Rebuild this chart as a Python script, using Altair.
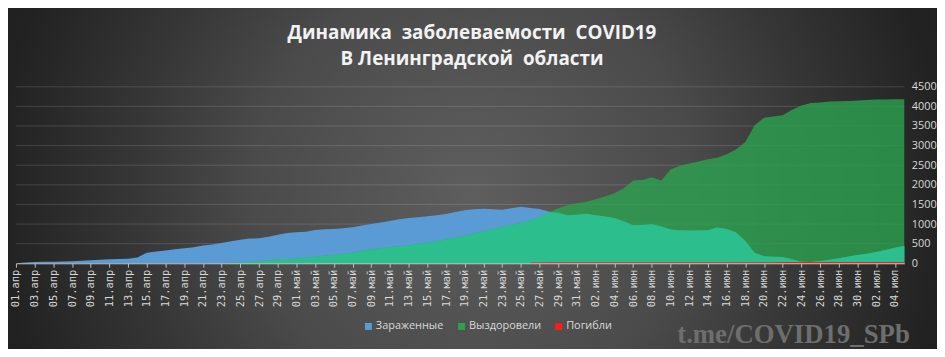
import altair as alt
import pandas as pd

# ---- data -------------------------------------------------------------
MONTHS = {4: "апр", 5: "май", 6: "июн", 7: "июл"}
dates = pd.date_range("2020-04-01", "2020-07-05", freq="D")
date_labels = [f"{d.day:02d}.{MONTHS[d.month]}" for d in dates]

series_names = ["Зараженные", "Выздоровели", "Погибли"]
series_colors = ["#5b9bd5", "#2ca24f", "#ff1a1a"]

infected = [
    0, 20, 34, 36, 38, 42, 50, 62, 75, 90,
    105, 112, 118, 150, 270, 300, 325, 355, 385, 410,
    455, 480, 520, 560, 600, 630, 635, 675, 725, 770,
    790, 805, 850, 865, 877, 895, 919, 960, 1003, 1040,
    1079, 1120, 1155, 1175, 1197, 1225, 1256, 1310, 1355, 1375,
    1390, 1375, 1366, 1400, 1440, 1410, 1385, 1320, 1290, 1225,
    1240, 1260, 1225, 1190, 1155, 1071, 970, 978, 995, 944,
    860, 840, 835, 835, 843, 910, 877, 792, 565, 270,
    180, 165, 160, 100, 40, 35, 59, 90, 130, 170,
    211, 245, 287, 340, 396, 445,
]

recovered = [
    0, 0, 0, 0, 0, 0, 0, 0, 0, 0,
    0, 0, 0, 0, 0, 0, 0, 0, 0, 0,
    2, 5, 8, 15, 25, 40, 59, 80, 101, 110,
    118, 140, 169, 190, 211, 240, 270, 310, 354, 385,
    413, 435, 455, 490, 523, 565, 607, 650, 700, 760,
    818, 870, 930, 980, 1030, 1100, 1180, 1300, 1400, 1480,
    1530, 1570, 1630, 1700, 1787, 1914, 2108, 2124, 2192, 2108,
    2394, 2487, 2546, 2596, 2655, 2689, 2782, 2900, 3094, 3520,
    3709, 3743, 3775, 3912, 4021, 4089, 4097, 4122, 4131, 4140,
    4148, 4160, 4173, 4178, 4181, 4181,
]

deaths = [None] * 55 + [
    22, 22, 23, 23, 23, 24, 24, 24, 25, 25,
    25, 26, 26, 26, 26, 27, 27, 27, 27, 28,
    28, 28, 28, 29, 29, 29, 29, 30, 30, 30,
    30, 31, 31, 31, 31, 32, 32, 32, 32, 33,
    33,
]

y_ticks = [0, 500, 1000, 1500, 2000, 2500, 3000, 3500, 4000, 4500]
grid_values = y_ticks[1:]

df = pd.DataFrame({"date": date_labels, "inf": infected, "rec": recovered, "dead": deaths})

# ---- shared encodings -------------------------------------------------
TXT = "#d9d9d9"
FONT = "Open Sans"
W, H = 896, 178

x_enc = alt.X(
    "date:O",
    sort=date_labels,
    scale=alt.Scale(type="point", padding=0, domain=date_labels),
    axis=alt.Axis(
        values=date_labels[::2], labelAngle=270, labelColor=TXT, labelFontSize=10.5,
        labelFont="DejaVu Sans Mono", tickColor="#bfbfbf", tickSize=4,
        domainColor="#c8c8c8", domainWidth=1, labelPadding=2, grid=False,
        title=None, zindex=1, labelOverlap=False,
    ),
)
y_scale = alt.Scale(domain=[0, 4500], nice=False)
y_axis = alt.Axis(
    orient="right", values=y_ticks, format="d", grid=False, domain=False, ticks=False,
    labelPadding=7, labelColor=TXT, labelFontSize=11, labelFont=FONT,
    title=None, zindex=1,
)
color_scale = alt.Scale(domain=series_names, range=series_colors)
legend = alt.Legend(
    orient="none", legendX=350, legendY=236, direction="horizontal", title=None,
    symbolType="square", symbolSize=49, symbolOpacity=1, symbolStrokeWidth=0,
    labelColor=TXT, labelFontSize=11, labelFont=FONT, columnPadding=12,
    labelOffset=2, padding=0,
)
color_enc = alt.Color("series:N", scale=color_scale, legend=legend)

# ---- layers -----------------------------------------------------------
bg = alt.Chart(pd.DataFrame({"k": [0]})).mark_rect(
    color={
        "gradient": "radial", "x1": 0.5, "y1": 0.5, "r1": 0,
        "x2": 0.5, "y2": 0.5, "r2": 0.6,
        "stops": [
            {"offset": 0, "color": "#5e5e5e"},
            {"offset": 0.4, "color": "#4a4a4a"},
            {"offset": 0.6, "color": "#373737"},
            {"offset": 0.85, "color": "#222222"},
            {"offset": 1, "color": "#1c1c1c"},
        ],
    }
).encode(x=alt.value(-8), x2=alt.value(929), y=alt.value(-228), y2=alt.value(437))

grid = alt.Chart(pd.DataFrame({"g": grid_values})).mark_rule(
    color="#ffffff", opacity=0.14, strokeWidth=1
).encode(y=alt.Y("g:Q", scale=y_scale, axis=y_axis))

base = alt.Chart(df)

blue = base.transform_calculate(series="'Зараженные'").mark_area().encode(
    x=x_enc, y=alt.Y("inf:Q", scale=y_scale, axis=y_axis), color=color_enc
)
green = base.transform_calculate(series="'Выздоровели'").mark_area(opacity=0.8).encode(
    x=x_enc, y=alt.Y("rec:Q", scale=y_scale, axis=y_axis), color=color_enc
)
overlap = base.transform_calculate(ov="min(datum.inf, datum.rec)").mark_area(
    color="#2cbf8d"
).encode(x=x_enc, y=alt.Y("ov:Q", scale=y_scale, axis=y_axis))
red = base.transform_filter("isValid(datum.dead)").transform_calculate(
    series="'Погибли'"
).mark_area().encode(
    x=x_enc, y=alt.Y("dead:Q", scale=y_scale, axis=y_axis), color=color_enc
)

watermark = alt.Chart(pd.DataFrame({"t": ["t.me/COVID19_SPb"]})).mark_text(
    font="Liberation Serif", fontWeight="bold", fontSize=27, color="#6e6e6e",
    align="left", baseline="alphabetic",
).encode(x=alt.value(667), y=alt.value(258), text="t:N")

NB = "\u00a0"
chart = alt.layer(bg, grid, blue, green, overlap, red, watermark).properties(
    width=W,
    height=H,
    autosize=alt.AutoSizeParams(type="none"),
    padding={"left": 8, "top": 78, "right": 33, "bottom": 85},
    title=alt.TitleParams(
        [f"Динамика{NB} заболеваемости{NB} COVID19", f"В Ленинградской{NB} области"],
        color="#f2f2f2", fontSize=19, font=FONT, fontWeight="bold",
        lineHeight=26, anchor="middle", offset=-210, dx=12,
    ),
).configure(background="#2e2e2e").configure_view(stroke=None)

chart.save("out.html", embed_options={"renderer": "svg", "actions": False})
